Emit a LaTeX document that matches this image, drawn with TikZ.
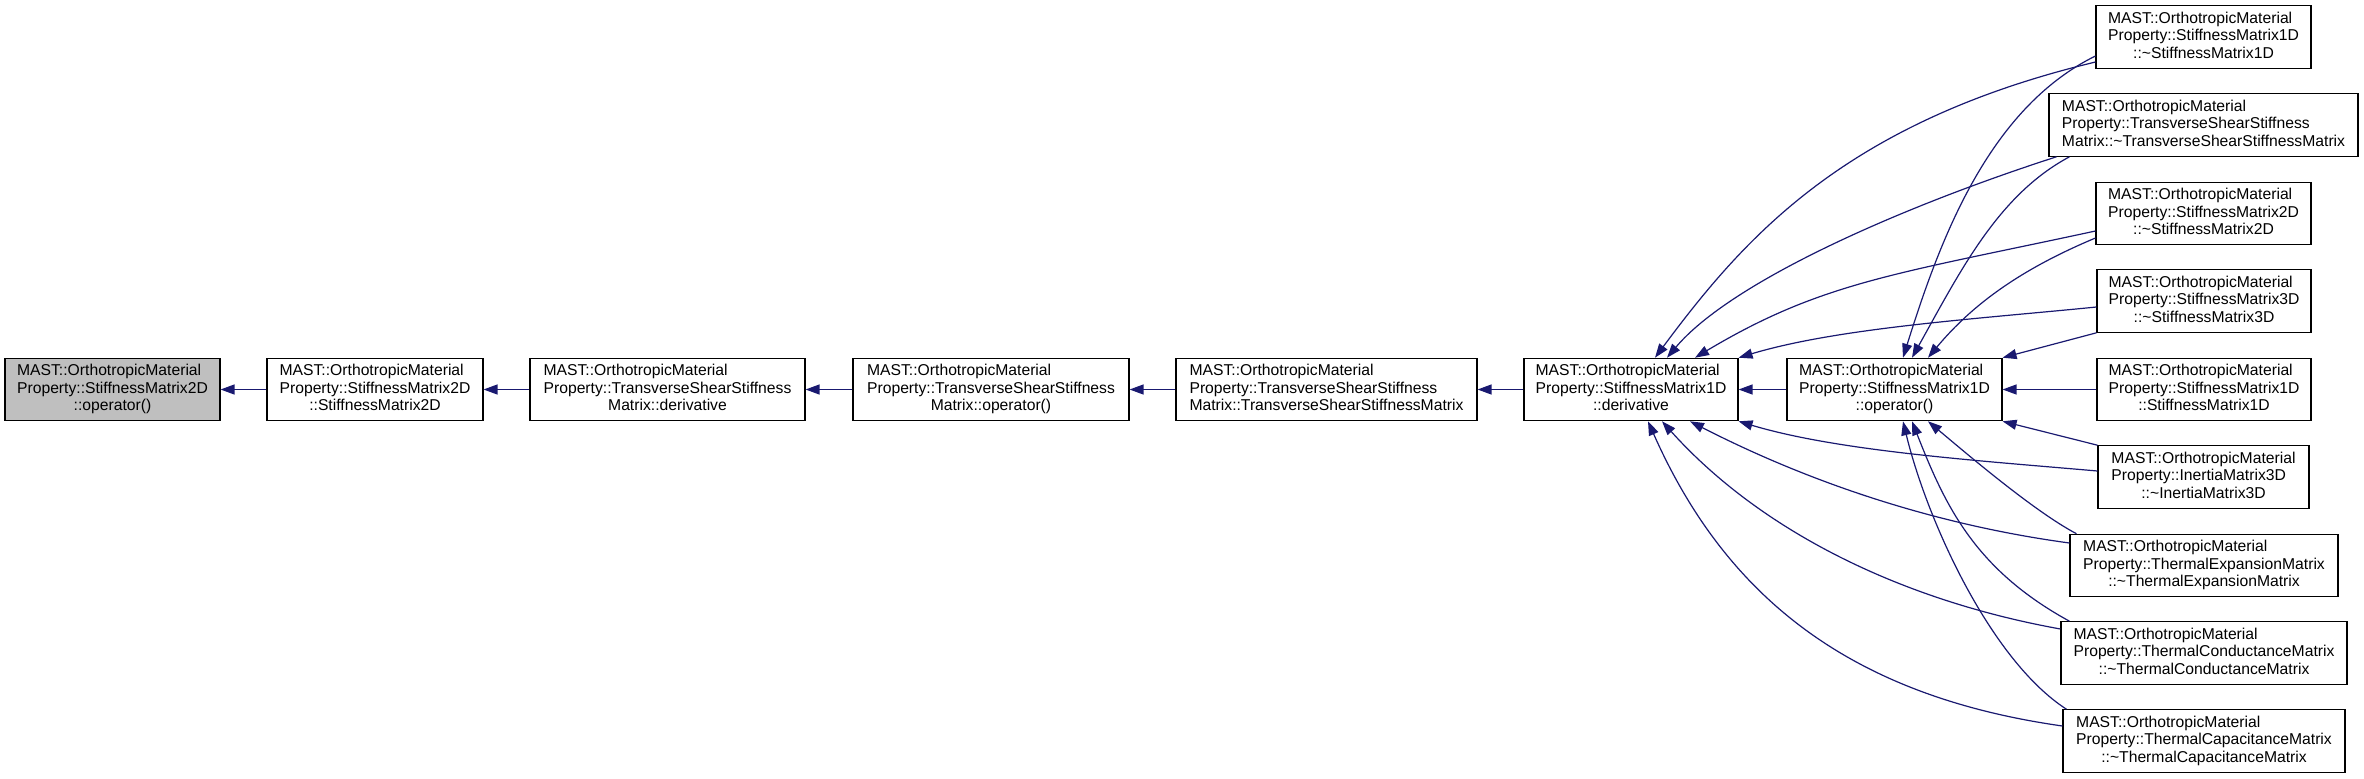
\documentclass[tikz,border=0pt]{standalone}
\usepackage{fontspec}
\setmainfont{Liberation Sans}
\usetikzlibrary{arrows.meta,calc}
\definecolor{edgeblue}{HTML}{191970}
\definecolor{hlgray}{HTML}{BFBFBF}
\newcommand\dxlabel[3]{\begin{tabular}{@{}l@{}}#1\\#2\\\multicolumn{1}{@{}c@{}}{#3}\end{tabular}}
\begin{document}
\begin{tikzpicture}[x=1pt,y=-1pt,
  box/.style={draw=black,line width=1.1pt,inner sep=0pt,minimum height=62.5pt,
    font=\fontsize{15.7}{17.5}\selectfont},
  edge/.style={draw=edgeblue,line width=1.2pt,-{Triangle[length=14pt,width=10pt]}}]
\useasboundingbox (0,0) rectangle (2364,779);

% main row
\node[box,fill=hlgray,minimum width=215pt] (n0) at (112.5,389.5)
  {\dxlabel{MAST::OrthotropicMaterial}{Property::StiffnessMatrix2D}{::operator()}};
\node[box,minimum width=216pt] (n1) at (375,389.5)
  {\dxlabel{MAST::OrthotropicMaterial}{Property::StiffnessMatrix2D}{::StiffnessMatrix2D}};
\node[box,minimum width=275pt] (n2) at (667.5,389.5)
  {\dxlabel{MAST::OrthotropicMaterial}{Property::TransverseShearStiffness}{Matrix::derivative}};
\node[box,minimum width=276pt] (n3) at (991,389.5)
  {\dxlabel{MAST::OrthotropicMaterial}{Property::TransverseShearStiffness}{Matrix::operator()}};
\node[box,minimum width=301pt] (n4) at (1326.5,389.5)
  {\dxlabel{MAST::OrthotropicMaterial}{Property::TransverseShearStiffness}{Matrix::TransverseShearStiffnessMatrix}};
\node[box,minimum width=214pt] (n5) at (1631,389.5)
  {\dxlabel{MAST::OrthotropicMaterial}{Property::StiffnessMatrix1D}{::derivative}};
\node[box,minimum width=215pt] (n6) at (1894.5,389.5)
  {\dxlabel{MAST::OrthotropicMaterial}{Property::StiffnessMatrix1D}{::operator()}};

% right column
\node[box,minimum width=215pt] (r1) at (2203.5,37)
  {\dxlabel{MAST::OrthotropicMaterial}{Property::StiffnessMatrix1D}{::\textasciitilde StiffnessMatrix1D}};
\node[box,minimum width=309pt] (r2) at (2203.5,125)
  {\dxlabel{MAST::OrthotropicMaterial}{Property::TransverseShearStiffness}{Matrix::\textasciitilde TransverseShearStiffnessMatrix}};
\node[box,minimum width=215pt] (r3) at (2203.5,213.5)
  {\dxlabel{MAST::OrthotropicMaterial}{Property::StiffnessMatrix2D}{::\textasciitilde StiffnessMatrix2D}};
\node[box,minimum width=214pt] (r4) at (2204,301)
  {\dxlabel{MAST::OrthotropicMaterial}{Property::StiffnessMatrix3D}{::\textasciitilde StiffnessMatrix3D}};
\node[box,minimum width=214pt] (r5) at (2204,389.5)
  {\dxlabel{MAST::OrthotropicMaterial}{Property::StiffnessMatrix1D}{::StiffnessMatrix1D}};
\node[box,minimum width=211pt] (r6) at (2203.5,477)
  {\dxlabel{MAST::OrthotropicMaterial}{Property::InertiaMatrix3D}{::\textasciitilde InertiaMatrix3D}};
\node[box,minimum width=268pt] (r7) at (2204,565.5)
  {\dxlabel{MAST::OrthotropicMaterial}{Property::ThermalExpansionMatrix}{::\textasciitilde ThermalExpansionMatrix}};
\node[box,minimum width=286pt] (r8) at (2204,653)
  {\dxlabel{MAST::OrthotropicMaterial}{Property::ThermalConductanceMatrix}{::\textasciitilde ThermalConductanceMatrix}};
\node[box,minimum width=282pt] (r9) at (2204,741)
  {\dxlabel{MAST::OrthotropicMaterial}{Property::ThermalCapacitanceMatrix}{::\textasciitilde ThermalCapacitanceMatrix}};

% straight chain
\draw[edge] (n1.west) -- (n0.east);
\draw[edge] (n2.west) -- (n1.east);
\draw[edge] (n3.west) -- (n2.east);
\draw[edge] (n4.west) -- (n3.east);
\draw[edge] (n5.west) -- (n4.east);
\draw[edge] (n6.west) -- (n5.east);
\draw[edge] (r5.west) -- (n6.east);
\draw[edge] (r4.south west) -- (n6.north east);
\draw[edge] (r6.north west) -- (n6.south east);

% curved edges to n5
\draw[edge] ($(r1.west)+(0,25)$) .. controls +(-250,60) and +(90,-121) .. ($(n5.north)+(24,0)$);
\draw[edge] ($(r2.south west)+(8,0)$) .. controls +(-152,49) and +(65,-77) .. ($(n5.north)+(36,0)$);
\draw[edge] ($(r3.west)+(0,17.5)$) .. controls +(-199,43) and +(127,-76) .. ($(n5.north)+(64,0)$);
\draw[edge] ($(r4.west)+(0,6)$) .. controls +(-120,12) and +(100,-30) .. (n5.north east);
\draw[edge] ($(r6.west)+(0,-6)$) .. controls +(-120,-10.5) and +(100,30) .. (n5.south east);
\draw[edge] ($(r7.west)+(0,-22.5)$) .. controls +(-170,-23) and +(80,41) .. ($(n5.south)+(59,0)$);
\draw[edge] ($(r8.west)+(0,-24)$) .. controls +(-161,-29) and +(98,109) .. ($(n5.south)+(31,0)$);
\draw[edge] ($(r9.west)+(0,-15)$) .. controls +(-212,-30) and +(78,176) .. ($(n5.south)+(17,0)$);

% curved edges to n6
\draw[edge] ($(r1.west)+(0,19)$) .. controls +(-108,53) and +(36,-115) .. ($(n6.north)+(8.5,0)$);
\draw[edge] ($(r2.south west)+(21,0)$) .. controls +(-71,38) and +(49,-88) .. ($(n6.north)+(17.5,0)$);
\draw[edge] ($(r3.west)+(0,24.5)$) .. controls +(-74,31) and +(45,-54) .. ($(n6.north)+(33.5,0)$);
\draw[edge] ($(r7.north west)+(7,0)$) .. controls +(-42,-22) and +(37,31) .. ($(n6.south)+(33.5,0)$);
\draw[edge] ($(r8.north west)+(9,0)$) .. controls +(-95,-52) and +(33,84) .. ($(n6.south)+(17.5,0)$);
\draw[edge] ($(r9.north west)+(4,0)$) .. controls +(-76,-49) and +(24,99) .. ($(n6.south)+(8.5,0)$);
\end{tikzpicture}
\end{document}
